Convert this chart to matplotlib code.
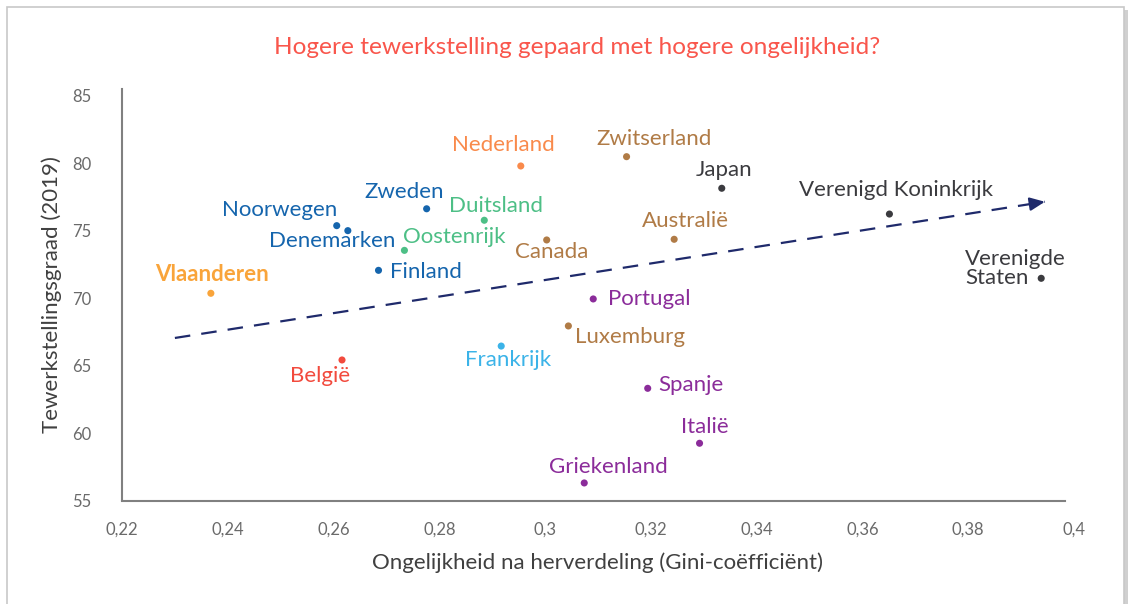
import matplotlib
matplotlib.use("Agg")
import matplotlib.pyplot as plt
from matplotlib.patches import Rectangle
from matplotlib.ticker import FixedLocator, FuncFormatter

plt.rcParams['font.family'] = ['Lato', 'DejaVu Sans']

# ---------------- data ----------------
countries = ["Vlaanderen", "Noorwegen", "Denemarken", "Zweden", "Finland",
             "Oostenrijk", "Duitsland", "Nederland", "Canada", "Zwitserland",
             "Japan", "Australië", "Verenigd Koninkrijk", "Verenigde\nStaten",
             "Portugal", "Luxemburg", "Frankrijk", "België", "Spanje",
             "Italië", "Griekenland"]
gini = [0.2368, 0.2606, 0.2627, 0.2776, 0.2685,
        0.2734, 0.2885, 0.2954, 0.3003, 0.3154,
        0.3334, 0.3244, 0.3651, 0.3938,
        0.3091, 0.3044, 0.2917, 0.2616, 0.3194,
        0.3292, 0.3074]
employment = [70.35, 75.36, 74.99, 76.61, 72.05,
              73.53, 75.76, 79.78, 74.30, 80.47,
              78.13, 74.35, 76.22, 71.46,
              69.93, 67.93, 66.44, 65.41, 63.31,
              59.24, 56.30]
trend_x = [0.2300, 0.3945]
trend_y = [67.04, 77.13]
x_ticks = [0.22, 0.24, 0.26, 0.28, 0.30, 0.32, 0.34, 0.36, 0.38, 0.40]
y_ticks = [55, 60, 65, 70, 75, 80, 85]

title = "Hogere tewerkstelling gepaard met hogere ongelijkheid?"
xlabel = "Ongelijkheid na herverdeling (Gini-coëfficiënt)"
ylabel = "Tewerkstellingsgraad (2019)"

# ---------------- styles ----------------
BLUE = "#1565ad"
GREEN = "#4dbf86"
BROWN = "#b07b46"
GRAY = "#3b3b3f"
PURPLE = "#8b2c9a"
colors = ["#f9a43a", BLUE, BLUE, BLUE, BLUE,
          GREEN, GREEN, "#f98a4b", BROWN, BROWN,
          GRAY, BROWN, GRAY, GRAY,
          PURPLE, BROWN, "#3bb3e8", "#f24a3d", PURPLE,
          PURPLE, PURPLE]
# label offsets in pixels (dx, dy up positive) and horizontal alignment
label_style = [(1, 19, 'center'), (-57, 16, 'center'), (-16, -10, 'center'),
               (-22, 17, 'center'), (11, -2, 'left'),
               (-1, 13, 'left'), (12, 14, 'center'), (-17, 21, 'center'),
               (5, -12, 'center'), (28, 18, 'center'),
               (2, 18, 'center'), (11, 18, 'center'), (7, 24, 'center'),
               (-76, 10, 'left'),
               (15, 0, 'left'), (7, -11, 'left'), (7, -14, 'center'),
               (-22, -16, 'center'), (11, 3, 'left'),
               (5, 16, 'center'), (24, 16, 'center')]

W, H = 1135, 604
fig = plt.figure(figsize=(W / 100, H / 100), dpi=100)

# frame with shadow
fig.patches.append(Rectangle((1124 / W, -0.1), 4 / W, 1.1 - 10 / H,
                             transform=fig.transFigure, facecolor="#d0d0d0",
                             edgecolor="none", zorder=-3))
fig.patches.append(Rectangle((7 / W, -0.1), (1124 - 7) / W, 1.1 - 7 / H,
                             transform=fig.transFigure, facecolor="white",
                             edgecolor="#c8c8c8", linewidth=1.2, zorder=-2))

ax = fig.add_axes([122 / W, 1 - 500.5 / H, (1074 - 122) / W, (500.5 - 88.5) / H])
ax.set_facecolor("none")
ax.set_xlim(0.22, 0.40)
ax.set_ylim(55, 85.52)

for s in ["top", "right"]:
    ax.spines[s].set_visible(False)
for s in ["left", "bottom"]:
    ax.spines[s].set_color("#808080")
    ax.spines[s].set_linewidth(1.5)
ax.spines["bottom"].set_bounds(0.22, 0.3983)

ax.xaxis.set_major_locator(FixedLocator(x_ticks))
ax.yaxis.set_major_locator(FixedLocator(y_ticks))
ax.xaxis.set_major_formatter(FuncFormatter(lambda v, p: ("%g" % round(v, 2)).replace(".", ",")))
ax.yaxis.set_major_formatter(FuncFormatter(lambda v, p: "%d" % v))
ax.tick_params(length=0, labelsize=12, labelcolor="#6a6a6a")
ax.tick_params(axis='x', pad=15)
ax.tick_params(axis='y', pad=22)

ax.set_xlabel(xlabel, fontsize=16, color="#404040", labelpad=11)
ax.set_ylabel(ylabel, fontsize=16, color="#404040", labelpad=7)

# trend line (dashed) with arrow head
ax.plot(trend_x, trend_y, color="#1f2a6b", linewidth=1.6, dashes=(7, 5), zorder=2)
ax.annotate("", xy=(trend_x[1], trend_y[1]),
            xytext=(trend_x[1] - 0.002, trend_y[1] - 0.12),
            arrowprops=dict(arrowstyle="-|>,head_length=0.9,head_width=0.4",
                            color="#1f2a6b", lw=1.6, shrinkA=0, shrinkB=0),
            zorder=3)

ax.scatter(gini, employment, s=26, c=colors, zorder=4, linewidths=0)

for name, x, y, c, (dx, dy, ha) in zip(countries, gini, employment, colors, label_style):
    ax.annotate(name, (x, y), xytext=(dx, dy), textcoords="offset pixels",
                ha=ha, va="center", fontsize=16, color=c,
                fontweight="bold" if name == "Vlaanderen" else "normal",
                linespacing=0.95, zorder=5)

fig.text(577 / W, 1 - 48 / H, title, ha="center", va="center",
         fontsize=17.6, color="#f9564c")

fig.savefig("out.png", dpi=100)
